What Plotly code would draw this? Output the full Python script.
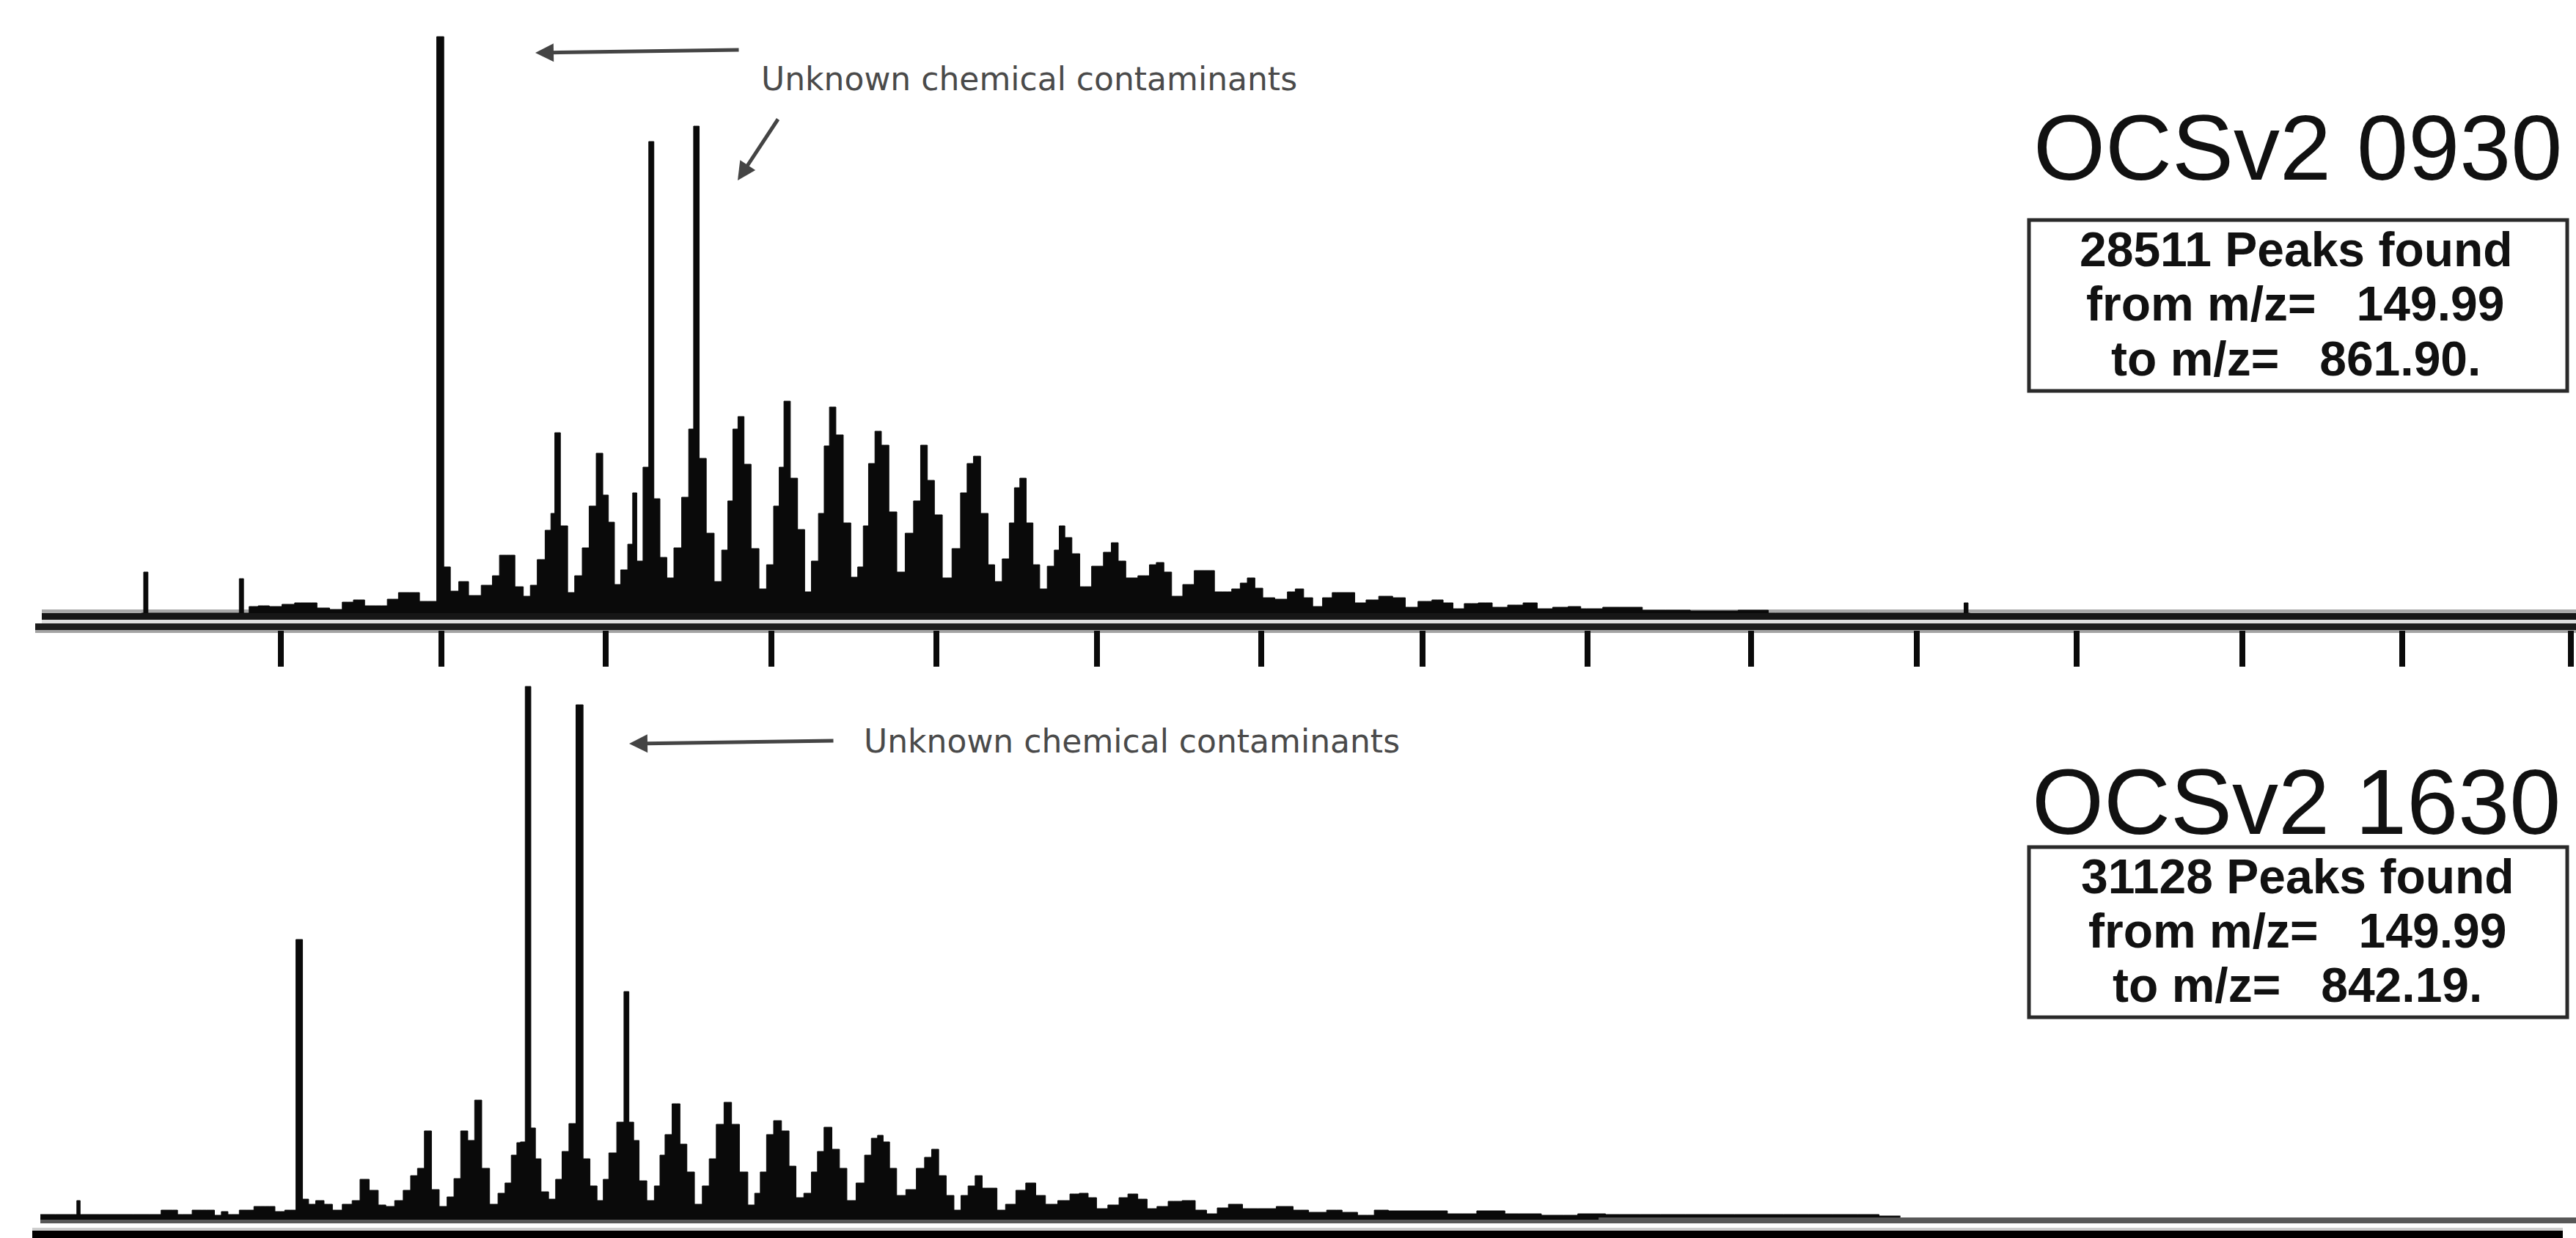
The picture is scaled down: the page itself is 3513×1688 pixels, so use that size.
import plotly.graph_objects as go

W, H = 3513, 1688

# Spectrum 1 (OCSv2 0930): m/z and intensity (arbitrary units)
top_mz = [157.6,158.9,160.2,186.7,188.0,189.3,191.4,194.8,198.2,202.5,205.9,209.3,212.7,217.0,220.4,223.8,227.2,230.7,234.1,237.5,240.9,243.5,246.0,
248.9,250.3,252.9,255.4,258.9,263.1,265.7,267.4,270.0,272.5,275.1,
276.8,279.3,281.6,282.8,284.0,286.2,288.4,290.5,
293.0,294.7,297.3,298.7,300.7,302.4,
304.5,306.7,307.5,309.2,311.3,312.7,314.4,316.4,318.6,
320.7,323.3,325.0,326.3,328.4,330.6,333.2,
335.2,336.9,338.3,340.0,342.0,344.3,346.8,
348.9,351.1,352.3,354.0,356.2,358.4,360.5,
362.5,364.8,366.0,368.0,369.9,372.5,374.5,
376.7,377.9,379.9,381.8,383.8,386.4,388.6,
391.5,393.7,395.8,397.8,400.1,402.6,
406.0,407.8,410.0,411.7,414.3,416.3,418.3,
420.9,422.6,424.0,425.9,427.9,430.0,432.0,
434.6,436.3,437.6,439.7,441.9,444.5,
449.1,451.7,453.9,455.9,458.5,
463.3,465.5,467.5,470.1,472.2,
476.9,479.2,482.9,485.5,488.0,
490.9,493.2,495.2,497.8,500.0,
505.1,507.7,509.9,512.8,515.4,
518.8,521.3,525.6,528.2,
532.5,535.9,541.0,543.6,
548.7,552.1,555.5,558.1,
562.4,566.6,570.9,
576.0,580.3,584.6,
589.7,594.0,597.4,
607.4,621.5,636.6,650.6,655.0,711.8,713.0,714.2]
top_intensity = [0,56,0,0,47,0,9,10,9,12,14,14,7,5,15,18,10,10,19,28,28,16,16,
786,63,30,43,24,38,51,79,79,36,23,
38,73,113,136,246,119,28,51,
89,146,218,161,124,39,
59,94,164,71,199,643,156,76,48,
89,158,251,664,211,109,43,
86,153,251,268,203,88,33,
66,146,199,289,184,114,29,
71,136,228,281,243,123,49,
63,119,204,248,229,138,56,
109,153,229,181,134,48,
88,164,204,214,136,66,43,
74,123,171,184,123,66,33,
64,86,119,103,81,36,
64,83,96,71,48,
51,66,69,56,23,
39,58,58,29,29,
33,41,48,34,21,
19,29,33,21,9,
21,28,28,14,
18,23,21,8,
16,18,14,6,
13,14,8,
11,14,6,
8,9,6,
8,4,3,4,0,0,14,0]

# Spectrum 2 (OCSv2 1630)
bottom_mz = [126.8,136.0,137.4,138.4,139.4,150.0,160.0,167.1,170.0,176.0,178.6,181.0,182.8,185.0,
189.7,193.9,196.5,199.9,202.5,203.6,205.6,207.6,209.3,211.9,214.4,217.0,
220.4,223.0,225.2,228.6,230.7,233.2,
236.1,238.4,240.6,242.6,244.8,246.9,249.5,
251.7,253.7,255.8,258.0,260.0,262.3,264.8,
267.4,269.1,271.2,272.5,273.4,275.4,276.8,278.2,280.2,282.8,
284.5,286.7,288.7,291.0,293.0,295.2,297.3,
299.0,300.7,303.8,305.1,306.8,308.0,310.1,312.7,
314.7,316.1,317.8,320.4,322.6,324.6,327.2,
329.4,331.4,333.7,336.1,338.3,340.9,343.4,
345.1,346.8,348.9,351.1,353.7,355.7,357.9,
360.5,362.5,364.2,366.5,369.0,371.1,373.5,
376.7,378.7,380.8,382.5,384.2,386.4,388.5,
392.0,394.9,397.0,399.2,401.3,403.8,406.0,
408.1,410.3,412.4,414.6,417.1,418.9,
422.3,425.2,428.3,431.3,434.2,
438.8,441.6,444.5,447.0,449.6,
453.9,456.4,459.3,462.4,465.0,
468.4,471.8,476.9,479.8,
483.8,486.3,490.6,494.9,
500.0,506.0,510.3,
515.4,521.3,524.8,
530.7,535.0,539.3,
550.4,559.8,568.3,576.9,590.5,599.1,
607.4,620.0,635.0,650.0,665.0,680.0,693.0]
bottom_intensity = [4,4,4,23,4,4,4,10,4,10,10,3,8,4,
10,15,15,8,10,10,379,25,18,23,18,10,
18,23,52,37,17,15,
23,37,57,67,118,38,15,
28,53,118,105,160,67,18,
33,47,85,102,103,724,122,80,35,25,
52,90,128,699,80,43,23,
52,88,130,308,130,105,50,23,
43,85,113,155,100,62,18,
43,80,127,157,127,62,17,
33,62,113,132,118,70,27,
33,62,90,123,93,67,23,
47,85,108,112,103,67,30,
38,67,82,93,57,30,10,
30,43,57,40,40,10,
18,37,47,30,18,
23,32,33,27,12,
17,27,32,25,12,
15,22,23,10,
5,13,18,12,
12,15,10,
7,10,7,
3,10,9,
9,5,9,5,3,5,
4,4,4,4,4,4,2]

tick_mz = [200,248.9,298.9,349.3,399.6,448.4,498.4,547.5,597.8,647.5,698,746.7,797.1,845.8,897.1]

def mz(px):
    return 200 + (px - 383) / 4.48
def px_x(p):
    return p / W
def px_y(p):
    return 1 - p / H

fig = go.Figure()
fig.add_trace(go.Scatter(x=top_mz, y=top_intensity, mode="lines", line=dict(color="#0a0a0a", width=1, shape="hvh"),
                         fill="tozeroy", fillcolor="#0a0a0a", xaxis="x", yaxis="y", showlegend=False, hoverinfo="skip"))
fig.add_trace(go.Scatter(x=bottom_mz, y=bottom_intensity, mode="lines", line=dict(color="#0a0a0a", width=1, shape="hvh"),
                         fill="tozeroy", fillcolor="#0a0a0a", xaxis="x2", yaxis="y2", showlegend=False, hoverinfo="skip"))

def band(xref, yref, x0, x1, y0, y1, color):
    return dict(type="rect", xref=xref, yref=yref, x0=x0, x1=x1, y0=y0, y1=y1,
                fillcolor=color, line=dict(width=0), layer="below")

xmax = mz(W)
shapes = [
    # top panel baseline double rule
    band("x", "y", mz(57), xmax, 0, 5, "#a8a8a8"),
    band("x", "y", mz(57), xmax, -9, 0, "#161616"),
    band("x", "y", mz(57), xmax, -14, -9, "#dedede"),
    band("x", "y", mz(48), xmax, -23, -14, "#1c1c1c"),
    band("x", "paper", mz(48), xmax, px_y(863), px_y(859), "#a4a4a4"),
    # bottom panel baseline double rule
    band("x2", "y2", mz(55), xmax, -8, 0, "#585858"),
    band("x2", "y2", mz(55), mz(2180), -3, 0, "#0a0a0a"),
    band("x2", "y2", mz(44), mz(3495), -18, -14, "#cecece"),
    band("x2", "y2", mz(44), mz(3495), -28, -18, "#000000"),
    # peak-count boxes
    dict(type="rect", xref="paper", yref="paper", x0=px_x(2767), x1=px_x(3501), y0=px_y(533), y1=px_y(300),
         line=dict(color="#2a2a2a", width=5)),
    dict(type="rect", xref="paper", yref="paper", x0=px_x(2767), x1=px_x(3501), y0=px_y(1387), y1=px_y(1155),
         line=dict(color="#2a2a2a", width=5)),
]

def text(s, xc, yc, size, family="Liberation Sans", color="#111111", bold=False, xanchor="center"):
    t = f"<b>{s}</b>" if bold else s
    return dict(text=t, xref="paper", yref="paper", x=px_x(xc), y=px_y(yc), xanchor=xanchor, yanchor="middle",
                showarrow=False, font=dict(family=family, size=size, color=color))

def arrow(x0, y0, x1, y1, color="#444444", w=5):
    return dict(text="", xref="paper", yref="paper", x=px_x(x1), y=px_y(y1), ax=x0 - x1, ay=y0 - y1,
                axref="pixel", ayref="pixel", showarrow=True, arrowhead=2, arrowsize=1, arrowwidth=w, arrowcolor=color)

nb = "\u00a0"
annotations = [
    text("OCSv2 0930", 3133, 201, 126),
    text("28511 Peaks found", 3131, 340, 66, bold=True),
    text(f"from m/z={nb*3}149.99", 3130, 414, 66, bold=True),
    text(f"to m/z={nb*3}861.90.", 3131, 489, 66, bold=True),
    text("OCSv2 1630", 3131, 1093, 126),
    text("31128 Peaks found", 3133, 1195, 66, bold=True),
    text(f"from m/z={nb*3}149.99", 3133, 1269, 66, bold=True),
    text(f"to m/z={nb*3}842.19.", 3133, 1343, 66, bold=True),
    text("Unknown chemical contaminants", 1036, 108, 44, family="DejaVu Sans", color="#4a4a4a", xanchor="left"),
    text("Unknown chemical contaminants", 1176, 1010, 44, family="DejaVu Sans", color="#4a4a4a", xanchor="left"),
    arrow(1009, 68, 730, 72),
    arrow(1062, 161, 1006, 246),
    arrow(1138, 1010, 858, 1014),
]

xdom = [px_x(40), 1]
xrange = [mz(40), mz(W)]
fig.update_layout(
    width=W, height=H, margin=dict(l=0, r=0, t=0, b=0, pad=0),
    paper_bgcolor="white", plot_bgcolor="rgba(0,0,0,0)", showlegend=False,
    xaxis=dict(domain=xdom, range=xrange, anchor="y", showgrid=False, zeroline=False, showline=False,
               tickmode="array", tickvals=tick_mz, ticktext=[""] * len(tick_mz),
               ticks="outside", ticklen=49, tickwidth=8, tickcolor="#0a0a0a"),
    yaxis=dict(domain=[px_y(859), 1], range=[-23, 836], visible=False),
    xaxis2=dict(domain=xdom, range=xrange, anchor="y2", visible=False),
    yaxis2=dict(domain=[0, px_y(920)], range=[-28, 740], visible=False),
    shapes=shapes, annotations=annotations,
)
fig.write_html("out.html", config={"displayModeBar": False},
               post_script="document.body.style.margin='0';document.body.style.overflow='hidden';")
